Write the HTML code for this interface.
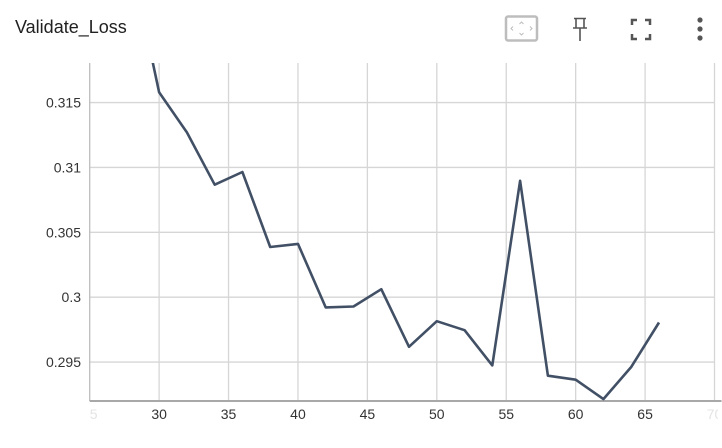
<!DOCTYPE html>
<html><head><meta charset="utf-8"><style>
body{margin:0;background:#fff;width:722px;height:448px;overflow:hidden;font-family:"Liberation Sans",sans-serif;}
#title{position:absolute;left:15px;top:17px;font-size:18px;color:#212121;}
svg text{font-family:"Liberation Sans",sans-serif;}
</style></head><body>
<div id="title">Validate_Loss</div>
<svg width="722" height="448" style="position:absolute;left:0;top:0">
  <defs>
    <clipPath id="xlabclip"><rect x="90" y="395" width="628" height="40"/></clipPath>
  </defs>
  <g>
    <rect x="506" y="16.5" width="31" height="24" rx="2" fill="none" stroke="#bdbdbd" stroke-width="2.5"/>
    <path d="M519.5 24 l2 -2 l2 2 M519.5 33 l2 2 l2 -2 M513 26.5 l-2 2 l2 2 M530 26.5 l2 2 l-2 2" fill="none" stroke="#bdbdbd" stroke-width="1"/>
  </g>
  <g stroke="#555" stroke-width="1.6" fill="none">
    <path d="M574 18.5 h12 M576 18.5 v9 M584 18.5 v9 M573 28 h14 M580 28 v13"/>
  </g>
  <g stroke="#555" stroke-width="2.5" fill="none">
    <path d="M632 25 v-5 h5 M645 20 h5 v5 M650 34 v5 h-5 M637 39 h-5 v-5"/>
  </g>
  <g fill="#555">
    <circle cx="700" cy="20" r="2.6"/><circle cx="700" cy="29" r="2.6"/><circle cx="700" cy="38" r="2.6"/>
  </g>
  <g id="grid"></g>
  <g id="axes"></g>
  <g id="xlabels" clip-path="url(#xlabclip)"></g>
  <g id="series"></g>
</svg>
<script>
const steps = [28,30,32,34,36,38,40,42,44,46,48,50,52,54,56,58,60,62,64,66];
const loss = [0.3258,0.3158,0.3127,0.30867,0.30965,0.30387,0.30411,0.29921,0.29928,0.30062,0.29618,0.29815,0.29746,0.29474,0.30897,0.29395,0.29364,0.29215,0.29462,0.29805];
const xTicks = [25,30,35,40,45,50,55,60,65,70];
const yTicks = [0.295,0.3,0.305,0.31,0.315];
const yTickLabels = ["0.295","0.3","0.305","0.31","0.315"];

const L=89.7,R=714.5,T=63,B=401;
const xMin=25,xMax=70,yMin=0.29200,yMax=0.31805;
const X=v=>L+(v-xMin)/(xMax-xMin)*(R-L);
const Y=v=>B-(v-yMin)/(yMax-yMin)*(B-T);
const NS="http://www.w3.org/2000/svg";
function mk(tag,attrs,parent){const e=document.createElementNS(NS,tag);for(const k in attrs)e.setAttribute(k,attrs[k]);parent.appendChild(e);return e;}
const grid=document.getElementById('grid'),axes=document.getElementById('axes'),series=document.getElementById('series'),xl=document.getElementById('xlabels');
xTicks.forEach((t,i)=>{
  const x=X(t);
  if(i>0){const g=mk('line',{x1:x,x2:x,y1:T,y2:B,stroke:'#d6d6d6','stroke-width':1.3},grid);
  
  }
  const edge=(i===0||i===xTicks.length-1);
  const tx=mk('text',{x:x,y:419,'text-anchor':'middle','font-size':14,fill:edge?'#e4e4e4':'#333'},xl);
  tx.textContent=String(t);
  
  
});
yTicks.forEach((t,i)=>{
  const y=Y(t);
  const g=mk('line',{x1:L,x2:R,y1:y,y2:y,stroke:'#d6d6d6','stroke-width':1.3},grid);
  
  
  const tx=mk('text',{x:81,y:y+5,'text-anchor':'end','font-size':14,fill:'#333'},axes);
  tx.textContent=yTickLabels[i];
  
  
});
const ya=mk('line',{x1:L,x2:L,y1:T,y2:B,stroke:'#bdbdbd','stroke-width':1.3},axes);


const xa=mk('line',{x1:L,x2:R+7,y1:B,y2:B,stroke:'#a8a8a8','stroke-width':2},axes);


mk('clipPath',{id:'clip'},series);
mk('rect',{x:L,y:T,width:R-L,height:B-T},document.getElementById('clip'));
const pts=steps.map((s,i)=>X(s).toFixed(1)+','+Y(loss[i]).toFixed(1)).join(' ');
const line=mk('polyline',{points:pts,fill:'none',stroke:'#425066','stroke-width':2.6,'stroke-linejoin':'round','clip-path':'url(#clip)'},series);


</script>
</body></html>
